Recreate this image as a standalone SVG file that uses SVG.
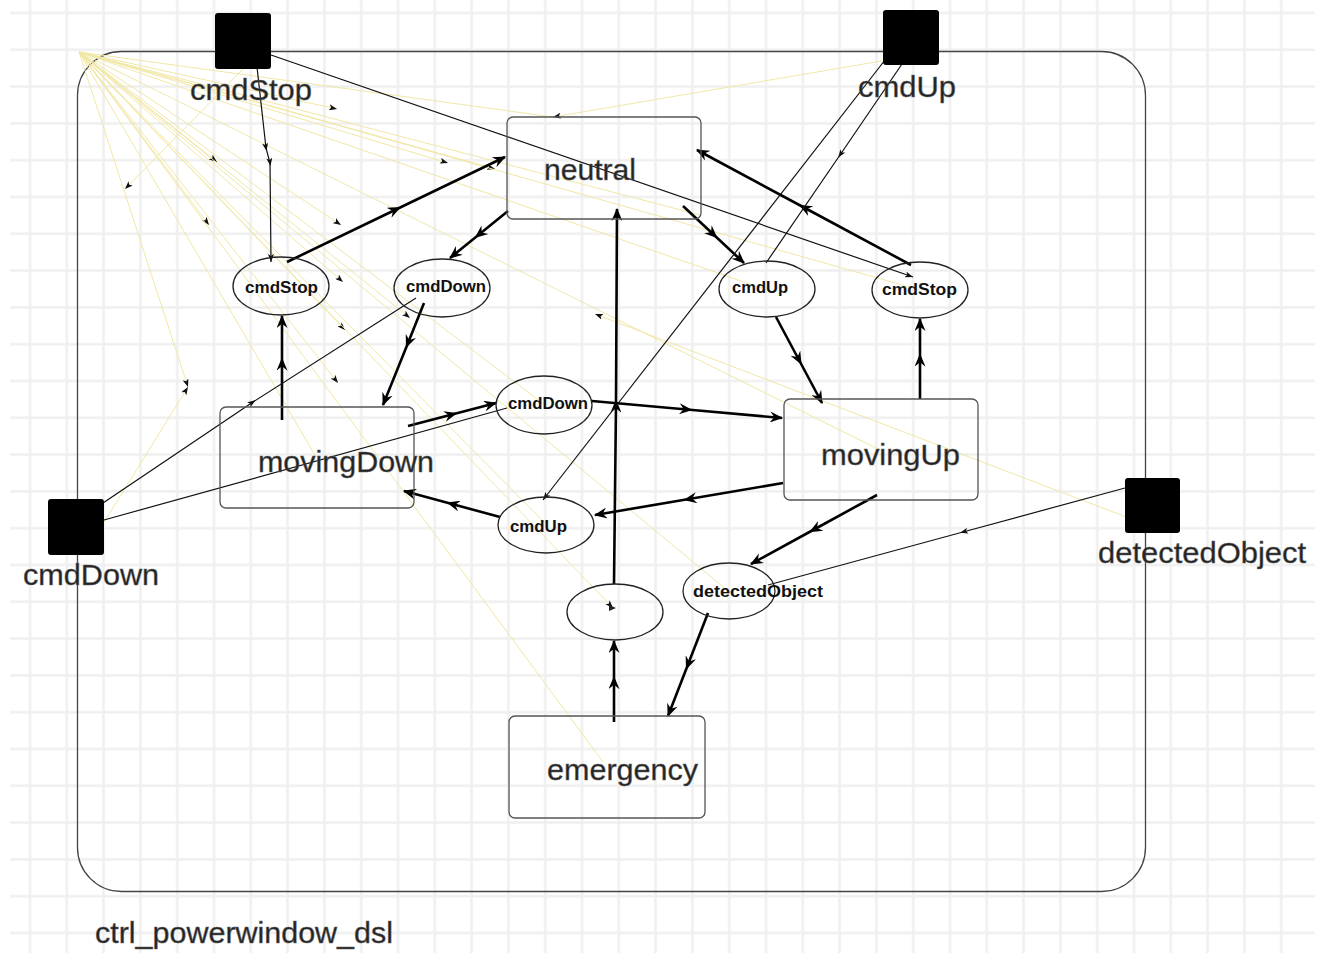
<svg xmlns="http://www.w3.org/2000/svg" width="1325" height="953" viewBox="0 0 1325 953">
  <defs>
    <pattern id="grid" patternUnits="userSpaceOnUse" x="11.6" y="-5.4" width="36.8" height="36.8">
      <path d="M0,18.4 H36.8 M18.4,0 V36.8" stroke="#efefef" stroke-width="2.5" fill="none"/>
    </pattern>
    <!-- arrowheads for thick transition edges -->
    <marker id="ah" viewBox="0 0 12 10" refX="11" refY="5" markerWidth="14" markerHeight="11" markerUnits="userSpaceOnUse" orient="auto">
      <path d="M0,0 L12,5 L0,10 L4,5 Z" fill="#000"/>
    </marker>
    <marker id="ahm" viewBox="0 0 12 10" refX="7" refY="5" markerWidth="14" markerHeight="11" markerUnits="userSpaceOnUse" orient="auto">
      <path d="M0,0 L12,5 L0,10 L4,5 Z" fill="#000"/>
    </marker>
    <!-- small arrowheads for port links -->
    <marker id="sa" viewBox="0 0 8 6" refX="8" refY="3" markerWidth="8" markerHeight="6" markerUnits="userSpaceOnUse" orient="auto">
      <path d="M0,0 L8,3 L0,6 L2,3 Z" fill="#111"/>
    </marker>
    <marker id="sam" viewBox="0 0 8 6" refX="5" refY="3" markerWidth="8" markerHeight="6" markerUnits="userSpaceOnUse" orient="auto">
      <path d="M0,0 L8,3 L0,6 L2,3 Z" fill="#111"/>
    </marker>
    <style>
      .big { font-family: "Liberation Sans", Arial, sans-serif; font-size: 30px; fill: #222; stroke: #666; stroke-width: 0.5; }
      .small { font-family: "Liberation Sans", Arial, sans-serif; font-size: 16px; font-weight: bold; fill: #111; }
      .state { fill: none; stroke: #555; stroke-width: 1.3; }
      .trans { fill: none; stroke: #222; stroke-width: 1.3; }
      .port { fill: #000; }
      .edge { fill: none; stroke: #000; stroke-width: 2.6; marker-mid: url(#ahm); marker-end: url(#ah); }
      .link { fill: none; stroke: #111; stroke-width: 1.2; }
      .ghost { fill: none; stroke: #f1e7a6; stroke-width: 1; }
      .ghost-a { fill: none; stroke: #f1e7a6; stroke-width: 1; marker-end: url(#sa); }
    </style>
  </defs>

  <rect x="0" y="0" width="1325" height="953" fill="#fff"/>
  <rect x="10" y="0" width="1305" height="953" fill="url(#grid)"/>

  <!-- component container -->
  <g id="ctrl_powerwindow_dsl">
    <rect x="77.5" y="51.5" width="1068" height="840" rx="44" ry="44" fill="none" stroke="#444" stroke-width="1.3"/>
    <text class="big" x="95" y="943" textLength="298" lengthAdjust="spacingAndGlyphs">ctrl_powerwindow_dsl</text>
  </g>

  <!-- faint layout guides -->
  <g id="guides">
    <path class="ghost-a" d="M79,52 L337,109"/>
    <path class="ghost-a" d="M79,52 L217,162"/>
    <path class="ghost-a" d="M79,52 L209,225"/>
    <path class="ghost-a" d="M79,52 L341,225"/>
    <path class="ghost-a" d="M79,52 L448,163"/>
    <path class="ghost-a" d="M79,52 L495,169"/>
    <path class="ghost-a" d="M79,52 L343,282"/>
    <path class="ghost-a" d="M79,52 L345,330"/>
    <path class="ghost-a" d="M79,52 L338,383"/>
    <path class="ghost-a" d="M79,52 L410,318"/>
    <path class="ghost-a" d="M79,52 L188,387"/>
    <path class="ghost-a" d="M79,52 L613,608"/>
    <path class="ghost" d="M79,52 L553,117"/>
    <path class="ghost" d="M79,52 L603,762"/>
    <path class="ghost" d="M79,52 L728,591"/>
    <path class="ghost" d="M79,52 L546,524"/>
    <path class="ghost" d="M79,52 L545,405"/>
    <path class="ghost" d="M79,52 L920,290"/>
    <path class="ghost" d="M79,52 L767,290"/>
    <path class="ghost" d="M79,52 L880,450"/>
    <path class="ghost" d="M79,52 L700,215"/>
    <path class="ghost" d="M79,52 L316,457"/>
    <path class="ghost-a" d="M247,65 L125,189"/>
    <path class="ghost-a" d="M905,57 L553,117"/>
    <path class="ghost-a" d="M93,540 L188,387"/>
    <path class="ghost-a" d="M1142,523 L595,314"/>
  </g>

  <!-- transitions and port links -->
  <g id="connectors">
    <path class="edge" d="M287,262 L396,209.5 L505,157"/>
    <path class="edge" d="M508,211 L479,234.5 L450,258"/>
    <path class="edge" d="M424,303 L408,343 L383,405"/>
    <path class="edge" d="M282,420 L282,363 L282,316"/>
    <path class="edge" d="M408,426 L452,414.5 L496,403"/>
    <path class="edge" d="M592,401 L687,409.5 L782,418"/>
    <path class="edge" d="M783,483 L689,499 L595,515"/>
    <path class="edge" d="M500,517 L452,504 L404,491"/>
    <path class="edge" d="M683,206 L713.5,234.5 L744,263"/>
    <path class="edge" d="M776,317 L799,360 L822,403"/>
    <path class="edge" d="M920,399 L920,359 L920,319"/>
    <path class="edge" d="M911,265 L804,207.5 L697,150"/>
    <path class="edge" d="M877,495 L814,529.5 L751,564"/>
    <path class="edge" d="M708,613 L688,664.5 L668,716"/>
    <path class="edge" d="M614,722 L614,681.5 L614,641"/>
    <path class="edge" d="M614,584 L616,405 L617,209"/>

    <path class="link" d="M257,67 L266,148 L270,163 L271,262" marker-mid="url(#sam)" marker-end="url(#sa)"/>
    <path class="link" d="M271,55 L913,277" marker-end="url(#sa)"/>
    <path class="link" d="M902,64 L840,155 L766,263" marker-mid="url(#sam)"/>
    <path class="link" d="M885,60 L543,500" marker-end="url(#sa)"/>
    <path class="link" d="M103,503 L253,402 L416,298" marker-mid="url(#sam)"/>
    <path class="link" d="M104,520 L507,408"/>
    <path class="link" d="M1125,488 L963,532 L768,585" marker-mid="url(#sam)"/>
    <path d="M609,605 L616,608 L609,611 Z" fill="#222"/>
  </g>

  <!-- ports -->
  <g id="port-cmdStop">
    <rect class="port" x="215" y="13" width="56" height="56" rx="3"/>
    <text class="big" x="190" y="100" textLength="122" lengthAdjust="spacingAndGlyphs">cmdStop</text>
  </g>
  <g id="port-cmdUp">
    <rect class="port" x="883" y="10" width="56" height="55" rx="3"/>
    <text class="big" x="858" y="97" textLength="98" lengthAdjust="spacingAndGlyphs">cmdUp</text>
  </g>
  <g id="port-cmdDown">
    <rect class="port" x="48" y="499" width="56" height="56" rx="3"/>
    <text class="big" x="23" y="585" textLength="136" lengthAdjust="spacingAndGlyphs">cmdDown</text>
  </g>
  <g id="port-detectedObject">
    <rect class="port" x="1125" y="478" width="55" height="55" rx="3"/>
    <text class="big" x="1098" y="563" textLength="208" lengthAdjust="spacingAndGlyphs">detectedObject</text>
  </g>

  <!-- states -->
  <g id="state-neutral">
    <rect class="state" x="507" y="117" width="194" height="102" rx="6"/>
    <text class="big" x="544" y="180" textLength="92" lengthAdjust="spacingAndGlyphs">neutral</text>
  </g>
  <g id="state-movingDown">
    <rect class="state" x="220" y="407" width="194" height="101" rx="6"/>
    <text class="big" x="258" y="472" textLength="176" lengthAdjust="spacingAndGlyphs">movingDown</text>
  </g>
  <g id="state-movingUp">
    <rect class="state" x="784" y="399" width="194" height="101" rx="6"/>
    <text class="big" x="821" y="465" textLength="139" lengthAdjust="spacingAndGlyphs">movingUp</text>
  </g>
  <g id="state-emergency">
    <rect class="state" x="509" y="716" width="196" height="102" rx="6"/>
    <text class="big" x="547" y="780" textLength="151" lengthAdjust="spacingAndGlyphs">emergency</text>
  </g>

  <!-- transition triggers -->
  <g id="trig-cmdStop-left">
    <ellipse class="trans" cx="281" cy="286" rx="48" ry="29"/>
    <text class="small" x="245" y="293" textLength="73" lengthAdjust="spacingAndGlyphs">cmdStop</text>
  </g>
  <g id="trig-cmdDown-top">
    <ellipse class="trans" cx="442" cy="288" rx="48" ry="29"/>
    <text class="small" x="406" y="292" textLength="80" lengthAdjust="spacingAndGlyphs">cmdDown</text>
  </g>
  <g id="trig-cmdUp-top">
    <ellipse class="trans" cx="767" cy="289" rx="48" ry="28"/>
    <text class="small" x="732" y="293" textLength="56" lengthAdjust="spacingAndGlyphs">cmdUp</text>
  </g>
  <g id="trig-cmdStop-right">
    <ellipse class="trans" cx="920" cy="290" rx="48" ry="28"/>
    <text class="small" x="882" y="295" textLength="75" lengthAdjust="spacingAndGlyphs">cmdStop</text>
  </g>
  <g id="trig-cmdDown-mid">
    <ellipse class="trans" cx="544" cy="405" rx="48" ry="29"/>
    <text class="small" x="508" y="409" textLength="80" lengthAdjust="spacingAndGlyphs">cmdDown</text>
  </g>
  <g id="trig-cmdUp-mid">
    <ellipse class="trans" cx="546" cy="525" rx="48" ry="28"/>
    <text class="small" x="510" y="532" textLength="57" lengthAdjust="spacingAndGlyphs">cmdUp</text>
  </g>
  <g id="trig-empty">
    <ellipse class="trans" cx="615" cy="612" rx="48" ry="28"/>
  </g>
  <g id="trig-detectedObject">
    <ellipse class="trans" cx="729" cy="591" rx="46" ry="28"/>
    <text class="small" x="693" y="597" textLength="130" lengthAdjust="spacingAndGlyphs">detectedObject</text>
  </g>
</svg>
